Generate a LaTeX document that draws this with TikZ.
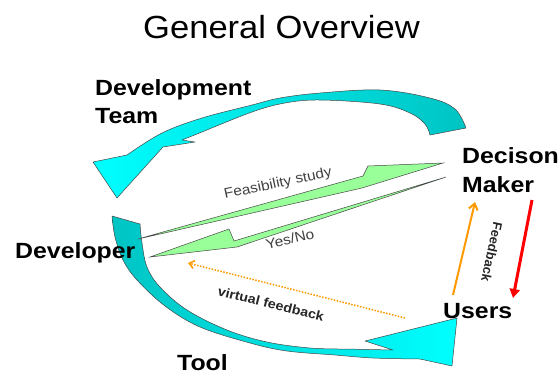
\documentclass[tikz,border=0pt]{standalone}
\usepackage{fontspec}
\setmainfont{Liberation Sans}
\usepackage{graphicx}
\usetikzlibrary{arrows.meta}
\definecolor{cyanA}{RGB}{0,255,255}
\definecolor{tealA}{RGB}{0,196,196}
\definecolor{greenA}{RGB}{153,255,153}
\definecolor{orangeA}{RGB}{255,153,0}
\definecolor{redA}{RGB}{255,0,0}
\definecolor{outlineA}{RGB}{70,70,70}
\newcommand\hstretch[1]{\scalebox{1.13}[1]{#1}}
\newcommand\sstretch[1]{\scalebox{1.1}[1]{#1}}
\begin{document}
\begin{tikzpicture}[x=1pt,y=-1pt,
  bigtext/.style={font=\fontsize{22}{26}\selectfont\bfseries, inner sep=0pt, anchor=base west},
  smalltext/.style={font=\fontsize{14}{16}\selectfont, inner sep=0pt, text=black!75},
  smallbold/.style={font=\fontsize{13}{15}\selectfont\bfseries, inner sep=0pt, text=black!85},
  ribbon/.style={draw=outlineA, line width=0.5pt, line join=round},
  greenarrow/.style={fill=greenA, draw=outlineA, line width=0.5pt, line join=miter},
]
\useasboundingbox (0,0) rectangle (559,373);

% title
\node[anchor=base west, inner sep=0pt, font=\fontsize{32}{36}\selectfont] (title) at (143,38) {\scalebox{1.08}[1]{General Overview}};

% top ribbon arrow (Development Team)
\path[ribbon, left color=cyanA, right color=tealA]
  plot[smooth, tension=0.6] coordinates {(466,128) (455,109) (430,98) (380,90) (320,93) (280,98) (252,105) (202,118) (162,133) (127,155)}
  -- (93,162) -- (117,198) -- (163,147) -- (195,142) -- (182,140)
  -- plot[smooth, tension=0.6] coordinates {(202,132) (252,112) (285,103) (320,100) (380,104) (410,113) (425,124) (430,135)}
  -- cycle;

% left/bottom ribbon arrow (Developer - Tool - Users)
\path[ribbon, left color=tealA, right color=cyanA]
  plot[smooth, tension=0.6] coordinates {(112,216) (115,237) (123,260) (137,280) (165,306) (200,327) (250,343) (287,351) (335,355) (373,358) (420,359)}
  -- (452,366) -- (457,318) -- (365,341) -- (393,350)
  -- plot[smooth, tension=0.6] coordinates {(345,349) (310,348) (267,342) (227,330) (187,310) (160,287) (147,267) (142,243) (140,224)}
  -- cycle;

% green arrows
\path[greenarrow] (138,239) -- (363,176) -- (368,166) -- (443,163) -- (362,188) -- cycle;
\path[greenarrow] (150,257) -- (229,229) -- (234,241) -- (446,177) -- (237,247) -- cycle;

% labels
\node[bigtext] (dev1) at (95,95) {\hstretch{Development}};
\node[bigtext] (dev2) at (95,123) {\hstretch{Team}};
\node[bigtext] (developer) at (15,258) {\hstretch{Developer}};
\node[bigtext] (tool) at (177,370) {\hstretch{Tool}};
\node[bigtext] (dm1) at (462,163) {\hstretch{Decison}};
\node[bigtext] (dm2) at (462,192) {\hstretch{Maker}};
\node[bigtext] (users) at (443,318) {\hstretch{Users}};

\node[smalltext, rotate=12] (feas) at (278,184) {\sstretch{Feasibility study}};
\node[smalltext, rotate=13] (yesno) at (290,239) {\sstretch{Yes/No}};
\node[smallbold, rotate=-14] (vfb) at (271,304) {\sstretch{virtual feedback}};
\node[smallbold, rotate=-102] (fb) at (492,252) {Feedback};

% connectors
\coordinate (vfS) at (405,318);
\coordinate (vfE) at (188,263);
\coordinate (upS) at (453,295);
\coordinate (upE) at (475,202);
\coordinate (dnS) at (532,200);
\coordinate (dnE) at (513,298);
\draw[orangeA, line width=1.5pt, dash pattern=on 1.5pt off 1.5pt, -{Straight Barb[length=5pt,width=8pt]}] (vfS) -- (vfE);
\draw[orangeA, line width=2pt, -{Straight Barb[length=6pt,width=9pt]}] (upS) -- (upE);
\draw[redA, line width=3pt, -{Triangle[length=9pt,width=10pt]}] (dnS) -- (dnE);
\end{tikzpicture}
\end{document}
